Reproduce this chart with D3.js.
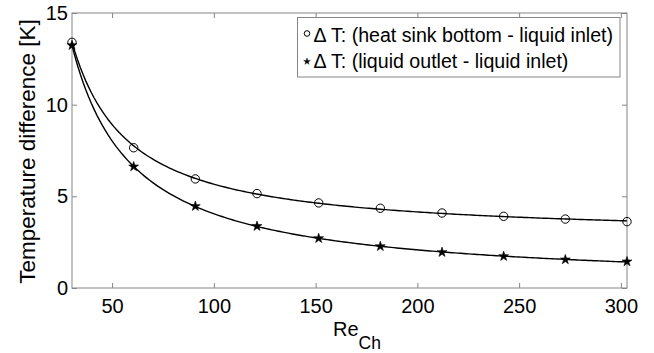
<!DOCTYPE html>
<html>
<head>
<meta charset="utf-8">
<script src="https://cdn.jsdelivr.net/npm/d3@7"></script>
<style>
  html, body { margin: 0; padding: 0; background: #fff; }
  svg { display: block; font-family: "Liberation Sans", Arial, sans-serif; }
</style>
</head>
<body>
<svg id="chart"></svg>
<script>
// values
const reCh = [30.3, 60.6, 90.9, 121.2, 151.5, 181.8, 212.1, 242.4, 272.7, 303];
const dtBottom = [13.4, 7.65, 5.95, 5.15, 4.64, 4.35, 4.09, 3.91, 3.76, 3.62];
const dtOutlet = [13.24, 6.62, 4.46, 3.37, 2.71, 2.27, 1.95, 1.73, 1.55, 1.44];
const xTicks = [50, 100, 150, 200, 250, 300];
const yTicks = [0, 5, 10, 15];
const legendLabels = ['\u0394 T: (heat sink bottom - liquid inlet)', '\u0394 T: (liquid outlet - liquid inlet)'];

const width = 654, height = 353;
const margin = { top: 13, right: 27, bottom: 65, left: 72 };
const innerW = width - margin.left - margin.right;
const innerH = height - margin.top - margin.bottom;
const axisColor = '#858585';

const svg = d3.select('#chart').attr('width', width).attr('height', height);
svg.append('rect').attr('width', width).attr('height', height).attr('fill', '#fff');

const g = svg.append('g').attr('transform', `translate(${margin.left},${margin.top})`);

const x = d3.scaleLinear().domain([reCh[0], reCh[reCh.length - 1]]).range([0, innerW]);
const y = d3.scaleLinear().domain([0, 15]).range([innerH, 0]);

function styleAxis(sel, showText) {
  sel.select('.domain').remove();
  sel.selectAll('.tick line').attr('stroke', axisColor);
  sel.selectAll('.tick text')
    .attr('fill', '#000')
    .style('font-size', '20px');
  if (!showText) sel.selectAll('.tick text').remove();
}

g.append('g').attr('transform', `translate(0,${innerH})`)
  .call(d3.axisBottom(x).tickValues(xTicks).tickSizeInner(-5).tickSizeOuter(0).tickPadding(11))
  .call(s => styleAxis(s, true));
g.append('g')
  .call(d3.axisTop(x).tickValues(xTicks).tickSizeInner(-5).tickSizeOuter(0))
  .call(s => styleAxis(s, false));
g.append('g')
  .call(d3.axisLeft(y).tickValues(yTicks).tickSizeInner(-5).tickSizeOuter(0).tickPadding(4))
  .call(s => styleAxis(s, true));
g.append('g').attr('transform', `translate(${innerW},0)`)
  .call(d3.axisRight(y).tickValues(yTicks).tickSizeInner(-5).tickSizeOuter(0))
  .call(s => styleAxis(s, false));

g.append('rect')
  .attr('width', innerW).attr('height', innerH)
  .attr('fill', 'none').attr('stroke', axisColor).attr('stroke-width', 1);

// least-squares fit y = a * Re^b + c, searched over the offset c
function fitPower(xs, ys) {
  let best = null;
  const lx = xs.map(Math.log);
  for (let c = 0; c < d3.min(ys) - 0.01; c += 0.01) {
    const ly = ys.map(v => Math.log(v - c));
    const mx = d3.mean(lx), my = d3.mean(ly);
    const b = d3.sum(lx, (v, i) => (v - mx) * (ly[i] - my)) / d3.sum(lx, v => (v - mx) ** 2);
    const a = Math.exp(my - b * mx);
    const sse = d3.sum(xs, (v, i) => (a * Math.pow(v, b) + c - ys[i]) ** 2);
    if (!best || sse < best.sse) best = { a, b, c, sse };
  }
  return v => best.a * Math.pow(v, best.b) + best.c;
}

const fitX = d3.range(0, 201).map(i => x.invert(innerW * i / 200));
const line = d3.line()
  .x(d => x(d[0]))
  .y(d => y(d[1]));

[dtBottom, dtOutlet].forEach(series => {
  const f = fitPower(reCh, series);
  g.append('path')
    .datum(fitX.map(v => [v, f(v)]))
    .attr('fill', 'none')
    .attr('stroke', '#000')
    .attr('stroke-width', 1.4)
    .attr('d', line);
});

g.selectAll('.pt-circle')
  .data(dtBottom)
  .enter().append('circle')
  .attr('class', 'pt-circle')
  .attr('cx', (d, i) => x(reCh[i]))
  .attr('cy', d => y(d))
  .attr('r', 4.2)
  .attr('fill', 'none')
  .attr('stroke', '#000')
  .attr('stroke-width', 1);

const star = d3.symbol().type(d3.symbolStar);

g.selectAll('.pt-star')
  .data(dtOutlet)
  .enter().append('path')
  .attr('class', 'pt-star')
  .attr('transform', (d, i) => `translate(${x(reCh[i])},${y(d)})`)
  .attr('d', star.size(30)())
  .attr('fill', '#000')
  .attr('stroke', '#000')
  .attr('stroke-width', 0.6);

// legend
const legend = svg.append('g').attr('transform', 'translate(297.5,17.5)');
legend.append('rect')
  .attr('width', 322.5).attr('height', 59.5)
  .attr('fill', '#fff').attr('stroke', axisColor);

legend.append('circle')
  .attr('cx', 9.5).attr('cy', 16)
  .attr('r', 2.8)
  .attr('fill', 'none').attr('stroke', '#000');
legend.append('path')
  .attr('transform', 'translate(9.5,44)')
  .attr('d', star.size(14)())
  .attr('fill', '#000').attr('stroke', '#000').attr('stroke-width', 0.4);

legend.selectAll('.leg-text')
  .data(legendLabels)
  .enter().append('text')
  .attr('class', 'leg-text')
  .attr('x', 16)
  .attr('y', (d, i) => 24 + i * 26)
  .style('font-size', '19.6px')
  .text(d => d);

// axis titles
svg.append('text')
  .attr('transform', `translate(35,${margin.top + innerH / 2 + 1}) rotate(-90)`)
  .attr('text-anchor', 'middle')
  .style('font-size', '22.5px')
  .text('Temperature difference [K]');

const xTitle = svg.append('text')
  .attr('x', 333)
  .attr('y', 336)
  .style('font-size', '20px');
xTitle.append('tspan').text('Re');
xTitle.append('tspan').attr('dy', 13).style('font-size', '17.5px').text('Ch');
</script>
</body>
</html>
